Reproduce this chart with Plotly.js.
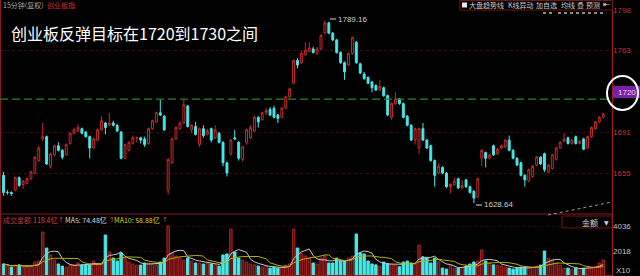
<!DOCTYPE html>
<html><head><meta charset="utf-8">
<script src="https://cdn.plot.ly/plotly-3.0.1.min.js"></script>
<style>html,body{margin:0;padding:0;background:#000;}#chart{width:640px;height:276px;}</style>
</head><body><div id="chart"></div>
<script>
const openPrice = [1653,1638,1638,1640,1651,1645,1646,1650,1655,1666,
1685,1687,1661,1671,1679,1675,1671,1681,1690,1692,
1694,1691,1687,1677,1684,1693,1699,1697,1699,1697,
1691,1668,1675,1681,1686,1686,1685,1681,1694,1700,
1708,1705,1640,1664,1685,1694,1699,1714,1693,1696,
1680,1694,1689,1694,1686,1690,1682,1664,1672,1686,
1682,1667,1682,1686,1692,1704,1702,1708,1711,1712,
1706,1704,1712,1722,1734,1754,1752,1759,1762,1764,
1760,1764,1778,1787,1778,1772,1761,1752,1750,1760,
1770,1751,1742,1739,1735,1732,1728,1730,1723,1704,
1716,1720,1716,1705,1697,1684,1677,1694,1684,1679,
1666,1655,1660,1655,1643,1645,1650,1642,1649,1643,
1639,1634,1668,1673,1668,1679,1672,1677,1678,1684,
1675,1668,1664,1653,1648,1652,1662,1669,1672,1656,
1659,1667,1677,1683,1686,1681,1687,1681,1685,1677,
1687,1694,1700,1704];
const closePrice = [1638,1638,1637,1651,1644,1648,1650,1656,1669,1677,
1687,1663,1672,1679,1675,1669,1680,1690,1693,1695,
1690,1687,1677,1685,1693,1701,1695,1699,1697,1692,
1668,1680,1682,1686,1686,1684,1680,1694,1701,1708,
1706,1693,1667,1685,1695,1699,1715,1696,1697,1689,
1694,1688,1692,1684,1693,1682,1664,1655,1684,1685,
1668,1678,1693,1695,1704,1700,1708,1710,1706,1704,
1703,1712,1722,1729,1754,1750,1760,1763,1765,1761,
1764,1776,1787,1778,1772,1761,1752,1744,1760,1774,
1752,1743,1738,1734,1730,1728,1731,1723,1706,1716,
1720,1716,1704,1697,1684,1694,1694,1684,1677,1666,
1653,1661,1655,1643,1645,1648,1642,1644,1643,1638,
1633,1650,1675,1668,1671,1671,1676,1679,1684,1675,
1668,1662,1653,1649,1658,1661,1669,1663,1658,1662,
1671,1677,1682,1685,1681,1684,1681,1683,1676,1687,
1695,1700,1704,1707];
const highPrice = [1656,1640,1639,1652,1652,1649,1651,1657,1670,1679,
1699,1688,1673,1680,1682,1676,1681,1691,1695,1698,
1695,1692,1688,1686,1694,1705,1700,1708,1701,1698,
1692,1681,1683,1688,1687,1687,1687,1695,1702,1709,
1720,1706,1668,1686,1696,1700,1720,1715,1698,1700,
1695,1697,1694,1695,1697,1691,1683,1665,1685,1693,
1683,1679,1694,1697,1705,1705,1709,1712,1713,1714,
1707,1713,1723,1730,1755,1756,1762,1770,1770,1766,
1766,1777,1789.16,1788,1779,1773,1762,1753,1761,1775,
1771,1752,1744,1740,1736,1733,1737,1731,1724,1717,
1726,1721,1717,1706,1698,1695,1695,1699,1685,1680,
1667,1664,1661,1656,1646,1651,1651,1649,1650,1644,
1640,1651,1676,1674,1672,1680,1677,1680,1685,1688,
1676,1669,1665,1654,1659,1662,1670,1670,1673,1663,
1672,1678,1683,1690,1687,1685,1688,1684,1686,1688,
1696,1701,1705,1708];
const lowPrice = [1635,1636,1635,1639,1643,1641,1645,1649,1654,1665,
1683,1662,1659,1670,1674,1667,1670,1680,1689,1691,
1689,1686,1668,1676,1683,1692,1689,1696,1696,1691,
1667,1667,1674,1680,1682,1681,1678,1680,1693,1699,
1705,1692,1636,1663,1684,1693,1698,1695,1690,1688,
1678,1686,1688,1682,1685,1681,1661,1652,1670,1684,
1666,1665,1680,1685,1691,1695,1701,1706,1705,1703,
1699,1703,1711,1721,1733,1747,1751,1758,1761,1760,
1759,1763,1777,1777,1771,1760,1751,1737,1749,1759,
1751,1742,1737,1733,1726,1727,1727,1722,1705,1702,
1715,1715,1703,1696,1683,1680,1672,1683,1676,1665,
1643,1654,1654,1642,1637,1644,1641,1641,1642,1637,
1628.64,1633,1661,1660,1667,1670,1671,1676,1677,1674,
1667,1661,1652,1643,1647,1651,1661,1662,1656,1655,
1658,1666,1676,1682,1680,1680,1680,1680,1675,1676,
1686,1693,1699,1703];
const volume = [970,800,720,880,900,720,750,800,1130,1210,
3550,2260,1700,1290,970,800,720,890,900,1050,
890,900,970,1210,880,970,3310,1940,1450,1210,
1860,1450,1130,970,880,880,1050,1050,970,900,
1130,1450,4040,1860,1610,1450,1290,1450,1210,1050,
1050,970,1050,970,900,800,1700,1780,3790,1940,
1450,1290,1130,970,900,800,720,800,640,720,
640,640,880,970,3790,2260,1800,1620,1450,1050,
970,1450,1610,1050,1050,1450,1210,1210,1450,1610,
3390,1860,1780,1210,970,900,800,1130,1000,970,
880,750,1130,1210,1050,970,2500,1550,1450,1050,
1450,1130,640,560,880,640,640,720,800,970,
1130,1210,2100,1210,1050,900,880,800,720,640,
560,640,720,720,640,720,800,880,2020,1450,
1290,1050,880,640,640,560,640,560,640,720,
720,800,1050,1290];
const priceTicks = [1655, 1691, 1763, 1798];
const volTicks = [2018, 4036];
const targetLevel = 1720;
const titleText = '创业板反弹目标在1720到1730之间';
const peakLabel = '1789.16';
const lowLabel = '1628.64';

const RED = '#c62a2a', CYAN = '#45e8e8';
const xs = openPrice.map((_, i) => i);
const isUp = openPrice.map((o, i) => closePrice[i] >= o);
function movingAvg(arr, n) {
  return arr.map((_, i) => {
    const s = Math.max(0, i - n + 1);
    const part = arr.slice(s, i + 1);
    return part.reduce((a, b) => a + b, 0) / part.length;
  });
}
const ma5 = movingAvg(volume, 5), ma10 = movingAvg(volume, 10);

const W = 612, H = 276, T = 10, PH = 266;
const PX = x => x / W;
const PY = y => (H - y) / PH;

const traces = [
  {type: 'candlestick', x: xs, open: openPrice, high: highPrice, low: lowPrice, close: closePrice,
   xaxis: 'x', yaxis: 'y',
   increasing: {line: {color: RED, width: 1}, fillcolor: '#000000'},
   decreasing: {line: {color: CYAN, width: 1}, fillcolor: CYAN},
   whiskerwidth: 0, hoverinfo: 'skip', showlegend: false},
  {type: 'bar', x: xs, y: volume, xaxis: 'x', yaxis: 'y2',
   marker: {color: isUp.map(u => u ? '#5a0d0d' : CYAN), line: {color: isUp.map(u => u ? '#a82424' : CYAN), width: 1}},
   width: 0.62, hoverinfo: 'skip', showlegend: false},
  {type: 'scatter', mode: 'lines', x: xs, y: ma5, xaxis: 'x', yaxis: 'y2',
   line: {color: '#c8c8c8', width: 1}, hoverinfo: 'skip', showlegend: false},
  {type: 'scatter', mode: 'lines', x: xs, y: ma10, xaxis: 'x', yaxis: 'y2',
   line: {color: '#b4b400', width: 1}, hoverinfo: 'skip', showlegend: false}
];

const pxPerPt = 163 / 143;
const priceDomBottom = 0.24;
const priceBottomPx = H - priceDomBottom * PH;
const priceMin = 1798 - (priceBottomPx - T) / pxPerPt;
const candleStep = 3.92, firstCandlePx = 3.5;

const CJK = 'Noto Sans CJK SC, Liberation Sans, sans-serif';
function f(size, color, family) {
  return {size: size, color: color, family: family || CJK};
}
function ann(text, x, y, opts) {
  return Object.assign({text: text, x: PX(x), y: PY(y), xref: 'paper', yref: 'paper',
    xanchor: 'left', yanchor: 'middle', showarrow: false, font: f(8, '#c0c0c0')}, opts || {});
}
function line(x0, y0, x1, y1, color, width, dash) {
  return {type: 'line', xref: 'paper', yref: 'paper', x0: PX(x0), y0: PY(y0), x1: PX(x1), y1: PY(y1),
    line: {color: color, width: width || 1, dash: dash || 'solid'}, layer: 'above'};
}
function rect(x0, y0, x1, y1, lc, fc) {
  return {type: 'rect', xref: 'paper', yref: 'paper', x0: PX(x0), y0: PY(y0), x1: PX(x1), y1: PY(y1),
    line: {color: lc, width: lc ? 1 : 0}, fillcolor: fc || 'rgba(0,0,0,0)', layer: 'above'};
}

const shapes = [
  line(0.5, 0, 0.5, 276, '#8a1c1c', 1),
  line(612.5, 10, 612.5, 276, '#a01e1e', 1),
  rect(460, 0.5, 612.5, 10, '#701616'),
  rect(462, 2.5, 467, 7.5, null, '#e8e8e8'),
  line(543, 13, 553, 13, '#8a8a8a', 2, 'dot'),
  line(558, 13, 606, 13, '#8a8a8a', 2, 'dot'),
  line(0, 214, 612, 214, '#8a1c1c', 1),
  line(0, 275.5, 612, 275.5, '#8a1c1c', 1),
  {type: 'line', xref: 'paper', yref: 'y', x0: 0, x1: 1, y0: targetLevel, y1: targetLevel,
   line: {color: '#1f8a1f', width: 1.3, dash: '8px,4px'}, layer: 'above'},
  rect(613, 86, 640, 98, null, '#7a1fa8'),
  {type: 'circle', xref: 'paper', yref: 'paper', x0: PX(607), x1: PX(638), y0: PY(76), y1: PY(110),
   line: {color: '#ffffff', width: 2}, layer: 'above'},
  rect(562, 216, 612, 228, '#701616'),
  line(548, 215, 612, 202, '#9a9a9a', 1, 'dot'),
  line(330, 19, 336, 19, '#d8d8d8', 1),
  line(476, 205, 482, 205, '#d8d8d8', 1)
];

const annotations = [
  ann('15分钟(复权)', 1, 5, {font: f(7, '#a8a8a8')}),
  ann('创业板指', 45, 5, {font: f(7, '#c83232')}),
  ann('大盘趋势线', 467, 5, {font: f(7, '#c8c8c8')}),
  ann('K线异动', 506, 5, {font: f(7, '#c8c8c8')}),
  ann('加自选', 534, 5, {font: f(7, '#c8c8c8')}),
  ann('均线', 559, 5, {font: f(7, '#c8c8c8')}),
  ann('叠', 575, 5, {font: f(7, '#c8c8c8')}),
  ann('预测', 584, 5, {font: f(7, '#c8c8c8')}),
  ann('⇤', 601, 5, {font: f(8, '#e0e0e0', 'DejaVu Sans')}),
  ann(titleText, 9, 33, {font: f(16, '#ffffff')}),
  ann(peakLabel, 336, 19, {font: f(8, '#d0d0d0', 'Liberation Sans')}),
  ann(lowLabel, 482, 205, {font: f(8, '#d0d0d0', 'Liberation Sans')}),
  ann('1720', 626.5, 92, {xanchor: 'center', font: f(8, '#f0d8ff', 'Liberation Sans')}),
  ann('成交金额', 1, 220, {font: f(7, '#b83a3a')}),
  ann('118.4亿', 31, 220, {font: f(7, '#e04040')}),
  ann('↑', 56, 220, {font: f(7, '#e04040', 'DejaVu Sans')}),
  ann('MA5: 74.48亿', 63, 220, {font: f(7, '#d8d8d8')}),
  ann('↑', 107, 220, {font: f(7, '#e04040', 'DejaVu Sans')}),
  ann('MA10: 58.88亿', 112, 220, {font: f(7, '#d8d800')}),
  ann('↑', 160, 220, {font: f(7, '#e04040', 'DejaVu Sans')}),
  ann('金额', 590, 222, {xanchor: 'center', font: f(8, '#d0d0d0')}),
  ann('▼', 606, 222, {xanchor: 'center', font: f(6, '#d0d0d0', 'DejaVu Sans')}),
  ann('X10', 614, 270, {font: f(8, '#c0c0c0', 'Liberation Sans')})
];

const layout = {
  width: 640, height: 276,
  margin: {l: 0, r: 28, t: 10, b: 0, pad: 0},
  paper_bgcolor: '#000000', plot_bgcolor: '#000000',
  showlegend: false,
  boxgap: 0.3,
  xaxis: {range: [-firstCandlePx / candleStep, (W - firstCandlePx) / candleStep], showgrid: false, zeroline: false,
          showticklabels: false, ticks: '', rangeslider: {visible: false}, fixedrange: true},
  yaxis: {domain: [priceDomBottom, 1], range: [priceMin, 1798.3], side: 'right', tickvals: priceTicks,
          ticks: '', tickfont: {size: 8, color: '#c83232', family: 'Liberation Sans'},
          showgrid: true, gridcolor: '#3a0c0c', griddash: 'dot', zeroline: false, showline: false},
  yaxis2: {domain: [0, 60 / PH], range: [0, 4036 * 60 / 50], side: 'right', tickvals: volTicks,
           ticks: '', tickfont: {size: 8, color: '#c0c0c0', family: 'Liberation Sans'},
           showgrid: true, gridcolor: '#2a0808', griddash: 'dot', zeroline: false, showline: false},
  shapes: shapes,
  annotations: annotations
};
Plotly.newPlot('chart', traces, layout, {displayModeBar: false, staticPlot: true});
</script></body></html>
